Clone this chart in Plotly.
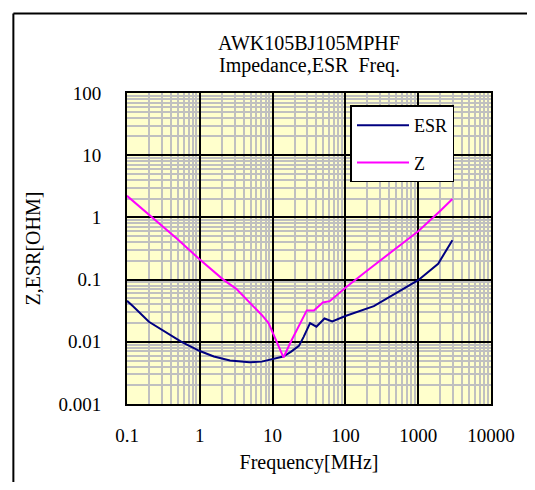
import plotly.graph_objects as go

# ESR data (MHz, Ohm)
freq_esr = [0.1, 0.122, 0.2, 0.34, 0.56, 1.0, 1.56, 2.6, 4.8, 7.1, 10, 14, 17.8, 23, 26.7,
            32.7, 40, 51.6, 66, 100, 246, 500, 1000, 1880, 2290, 2950]
esr = [0.0455, 0.037, 0.021, 0.0141, 0.010, 0.0071, 0.0058, 0.0050, 0.0047, 0.0048, 0.0053,
       0.0058, 0.0069, 0.0086, 0.012, 0.020, 0.0175, 0.0237, 0.0213, 0.026, 0.0375, 0.061,
       0.098, 0.18, 0.26, 0.43]

# Impedance data (MHz, Ohm)
freq_z = [0.1, 0.2, 0.5, 1.0, 2.1, 3.17, 5.3, 7.1, 8.8, 11.3, 14.1, 17.8, 23, 29.5, 36.9,
          49, 61, 100, 200, 500, 1000, 2000, 2950]
z = [2.22, 1.1, 0.44, 0.21, 0.1, 0.071, 0.039, 0.027, 0.020, 0.010, 0.0056, 0.010, 0.018,
     0.032, 0.032, 0.043, 0.045, 0.074, 0.14, 0.325, 0.6, 1.27, 1.97]

x_ticks = [0.1, 1, 10, 100, 1000, 10000]
x_labels = ["0.1", "1", "10", "100", "1000", "10000"]
y_ticks = [0.001, 0.01, 0.1, 1, 10, 100]
y_labels = ["0.001", "0.01", "0.1", "1", "10", "100"]

title_line1 = "AWK105BJ105MPHF"
title_line2 = "Impedance,ESR\u00a0\u00a0Freq."

FONT = "Liberation Serif"
W, H = 519, 474
L, R, T, B = 119, 22, 85, 71
PW, PH = W - L - R, H - T - B

fig = go.Figure()
fig.add_trace(go.Scatter(x=freq_esr, y=esr, mode="lines", name="ESR",
                         line=dict(color="#000080", width=2), legendgroup="a"))
fig.add_trace(go.Scatter(x=freq_z, y=z, mode="lines", name="Z",
                         line=dict(color="#FF00FF", width=2), legendgroup="b"))

grid_common = dict(
    type="log", showline=True, linecolor="black", linewidth=2, mirror=True,
    showgrid=True, gridcolor="black", gridwidth=1.5, zeroline=False,
    ticks="", tickfont=dict(family=FONT, size=19, color="black"),
    ticklabeloverflow="allow",
    minor=dict(dtick="D1", showgrid=True, gridcolor="#C0C0C0", gridwidth=1.5, ticks=""),
)

fig.update_xaxes(**grid_common, range=[-1, 4], tickmode="array", tickvals=x_ticks,
                 ticktext=x_labels, ticklabelstandoff=13,
                 title=dict(text="Frequency[MHz]", font=dict(family=FONT, size=20, color="black"),
                            standoff=10))
fig.update_yaxes(**grid_common, range=[-3, 2], tickmode="array", tickvals=y_ticks,
                 ticktext=y_labels, ticklabelstandoff=20,
                 title=dict(text="Z,ESR[OHM]", font=dict(family=FONT, size=20, color="black"),
                            standoff=12))

frame_x0 = (1 - L) / PW
frame_y1 = 1 + (T - 3.7) / PH

fig.update_layout(
    width=W, height=H,
    margin=dict(l=L, r=R, t=T, b=B, pad=0),
    paper_bgcolor="white", plot_bgcolor="#FFFFCC",
    font=dict(family=FONT, color="black"),
    title=dict(text=title_line1,
               font=dict(family=FONT, size=20, color="black"),
               x=0.5, xref="paper", xanchor="center",
               y=1 - 35 / H, yref="container", yanchor="middle"),
    annotations=[dict(text=title_line2, xref="paper", yref="paper", x=0.5,
                      y=1 + (T - 57) / PH, xanchor="center", yanchor="middle",
                      showarrow=False, font=dict(family=FONT, size=20, color="black"))],
    legend=dict(x=0.614, y=0.96, xanchor="left", yanchor="top",
                bgcolor="white", bordercolor="black", borderwidth=1.5,
                font=dict(family=FONT, size=18, color="black"),
                tracegroupgap=11, itemwidth=52, traceorder="grouped"),
    showlegend=True,
    shapes=[
        dict(type="line", xref="paper", yref="paper",
             x0=frame_x0, x1=frame_x0, y0=-0.4, y1=frame_y1,
             line=dict(color="black", width=2), layer="above"),
        dict(type="line", xref="paper", yref="paper",
             x0=frame_x0, x1=1.3, y0=frame_y1, y1=frame_y1,
             line=dict(color="black", width=2), layer="above"),
    ],
)

fig.write_html("out.html")
